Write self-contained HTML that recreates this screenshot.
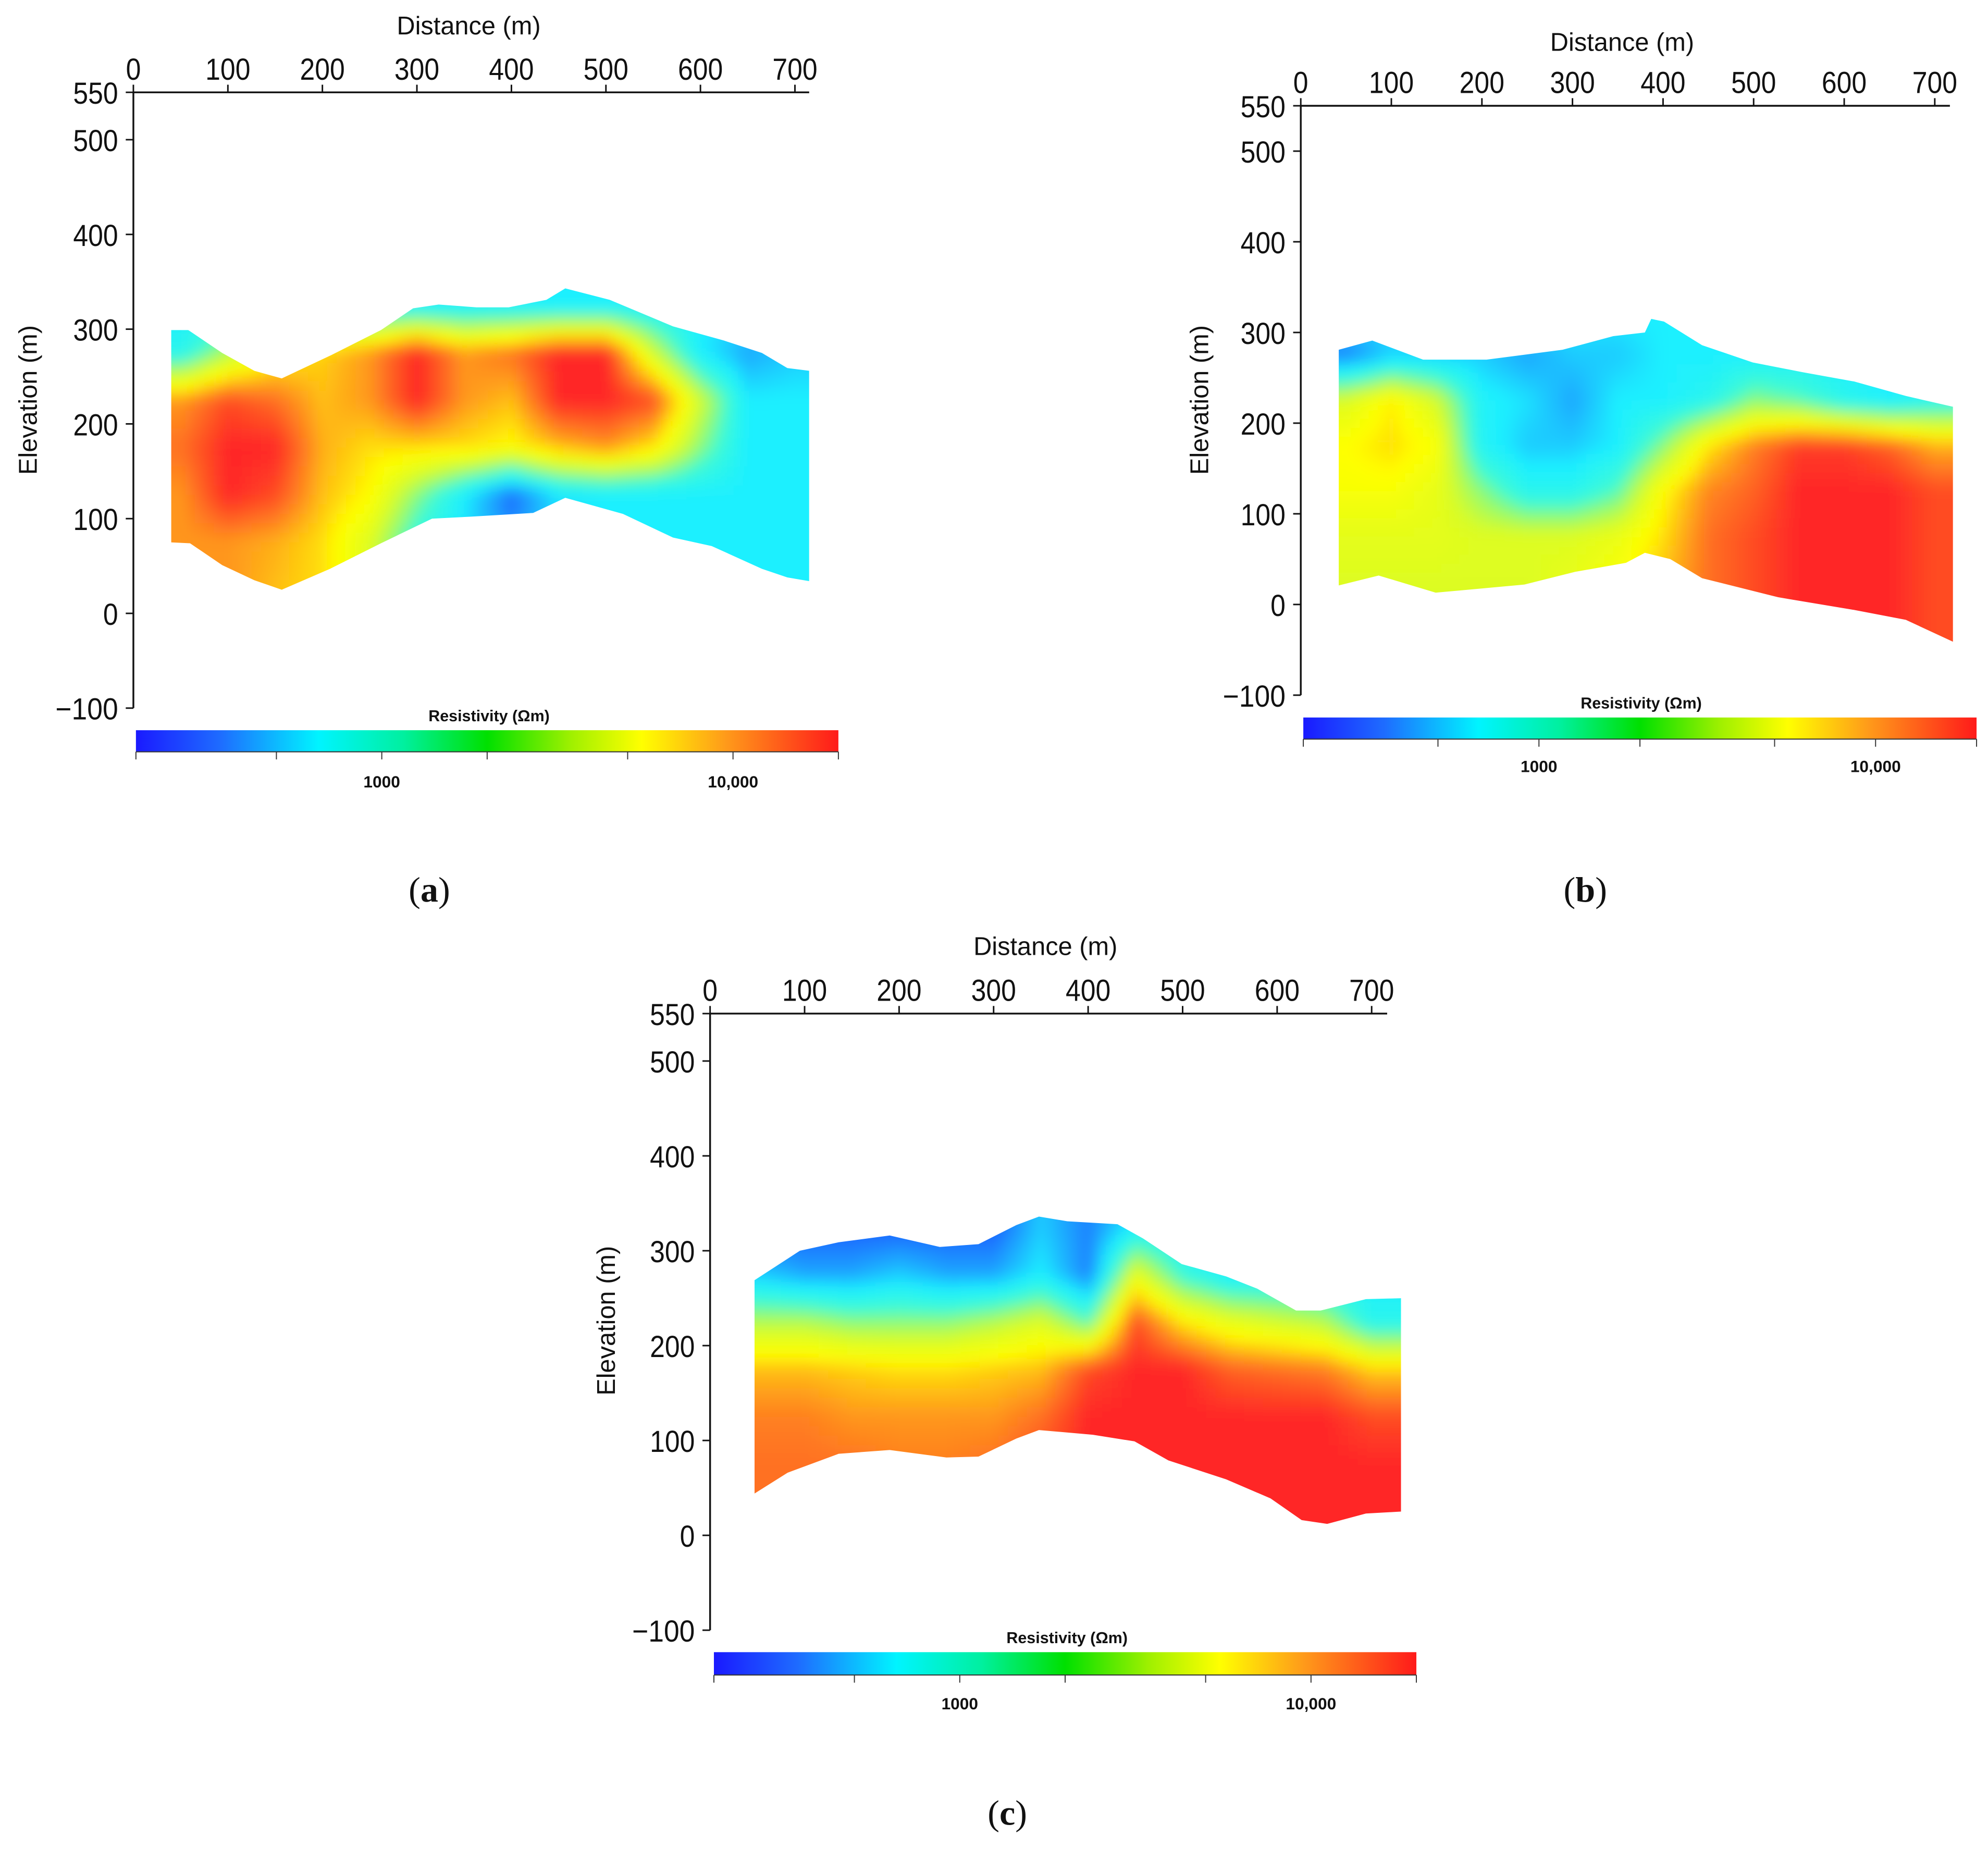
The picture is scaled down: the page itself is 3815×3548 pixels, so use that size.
<!DOCTYPE html>
<html><head><meta charset="utf-8">
<style>
html,body{margin:0;padding:0;background:#fff;}
svg{display:block;}
text{font-family:"Liberation Sans",Arial,sans-serif;fill:#111;}
</style></head>
<body>
<svg id="fig" width="3815" height="3548" viewBox="0 0 1565 1456" preserveAspectRatio="none" xmlns="http://www.w3.org/2000/svg">
<defs>
<linearGradient id="cmap" x1="0" x2="1" y1="0" y2="0">
<stop offset="0" stop-color="#1a1aff"/>
<stop offset="0.12" stop-color="#1e6cff"/>
<stop offset="0.26" stop-color="#00f4ff"/>
<stop offset="0.38" stop-color="#00f0a0"/>
<stop offset="0.5" stop-color="#00e000"/>
<stop offset="0.62" stop-color="#a0f000"/>
<stop offset="0.72" stop-color="#ffff00"/>
<stop offset="0.84" stop-color="#ff9a1a"/>
<stop offset="1" stop-color="#ff1a1a"/>
</linearGradient>
<filter id="blur" x="-10%" y="-10%" width="120%" height="120%"><feGaussianBlur stdDeviation="5"/></filter>
</defs>
</svg>
<script>
// ---------- data ----------
const xTicks = [0,100,200,300,400,500,600,700];
const yTicks = [550,500,400,300,200,100,0,-100];
const gridDist = [50,100,150,200,250,300,350,400,450,500,550,600,650,700];
const gridElevA = [325,275,225,175,125,75,25];
const gridElevB = [325,275,225,175,125,75,25,-25];
const gridElevC = [325,275,225,175,125,75,25];
const valuesA = [
[.3,.3,.3,.3,.3,.3,.3,.3,.3,.3,.3,.3,.3,.3],
[.35,.55,.72,.78,.85,1,.85,.9,1,1,.6,.3,.2,.25],
[.85,.95,.9,.8,.85,1,.85,.8,1,1,.95,.6,.3,.3],
[.9,1,1,.82,.76,.76,.76,.72,.8,.85,.75,.5,.3,.3],
[.85,1,.95,.8,.72,.5,.3,.12,.28,.3,.3,.3,.3,.3],
[.85,.85,.82,.76,.62,.38,.28,.18,.3,.3,.3,.3,.3,.3],
[.85,.85,.8,.76,.62,.4,.3,.3,.3,.3,.3,.3,.3,.3]];
const valuesB = [
[.3,.3,.3,.3,.3,.3,.3,.3,.3,.3,.3,.3,.3,.3],
[.15,.25,.25,.25,.2,.25,.25,.3,.3,.3,.3,.3,.3,.3],
[.62,.74,.6,.32,.28,.2,.3,.3,.35,.5,.45,.35,.3,.35],
[.72,.76,.7,.33,.25,.25,.3,.5,.75,.88,.97,.97,.92,.82],
[.7,.7,.65,.5,.35,.35,.45,.72,.87,.92,1,1,1,.95],
[.64,.64,.64,.62,.62,.62,.66,.76,.9,.95,1,1,1,.95],
[.62,.62,.62,.62,.62,.65,.7,.8,.9,.95,1,1,1,.95],
[.6,.6,.6,.6,.6,.65,.7,.8,.9,.95,1,1,1,.95]];
const valuesC = [
[.1,.1,.1,.1,.1,.1,.25,.15,.3,.3,.3,.3,.3,.3],
[.25,.2,.2,.25,.2,.2,.3,.15,.65,.4,.3,.3,.3,.3],
[.55,.55,.5,.5,.5,.55,.62,.45,.95,.75,.65,.6,.55,.35],
[.8,.8,.78,.76,.76,.78,.8,.95,1,1,.92,.9,.88,.78],
[.88,.88,.85,.85,.85,.85,.9,1,1,1,1,1,1,.95],
[.9,.9,.9,.88,.88,.9,.95,1,1,1,1,1,1,1],
[.9,.9,.9,.9,.9,.9,.95,1,1,1,1,1,1,1]];
const topA = [[40,299],[58,299],[94,275],[128,256],[157,248],[208,272],[262,299],[296,322],[323,326],[363,323],[397,323],[437,331],[457,343],[504,331],[571,303],[625,288],[665,275],[692,259],[715,256]];
const botA = [[715,34],[692,38],[665,47],[612,71],[571,80],[518,105],[457,122],[423,106],[356,102],[316,100],[262,74],[208,47],[157,25],[128,35],[94,51],[60,74],[40,75]];
const topB = [[42,281],[79,291],[135,270],[205,270],[289,281],[345,296],[380,300],[387,315],[401,312],[443,286],[499,267],[555,256],[611,246],[668,230],[720,218]];
const botB = [[720,-41],[668,-17],[611,-6],[527,8],[443,29],[408,50],[380,57],[359,46],[303,36],[247,22],[149,13],[86,32],[42,21]];
const topC = [[47,269],[95,300],[136,309],[190,316],[243,304],[284,307],[324,327],[348,336],[378,331],[431,328],[458,313],[499,286],[546,273],[579,260],[620,237],[646,237],[694,249],[731,250]];
const botC = [[731,25],[694,23],[653,12],[626,16],[593,39],[546,59],[485,79],[449,99],[405,106],[348,111],[324,102],[284,83],[250,82],[190,90],[136,86],[82,66],[47,44]];
const cbTickFrac = [0,0.2,0.35,0.5,0.7,0.85,1];
const cbLabels = [["1000",0.35],["10,000",0.85]];

// ---------- helpers ----------
const NS = "http://www.w3.org/2000/svg";
const svg = document.getElementById('fig');
function mk(tag, attrs, parent){const e=document.createElementNS(NS,tag);for(const k in attrs)e.setAttribute(k,attrs[k]);(parent||svg).appendChild(e);return e;}
const stops=[[0,[26,40,255]],[0.12,[30,108,255]],[0.3,[30,240,255]],[0.42,[60,250,215]],[0.5,[140,250,120]],[0.6,[215,252,40]],[0.72,[255,255,0]],[0.85,[255,150,30]],[1,[255,38,38]]];
function cmap(v){v=Math.max(0,Math.min(1,v));for(let i=1;i<stops.length;i++){if(v<=stops[i][0]){const a=stops[i-1],b=stops[i];const t=(v-a[0])/(b[0]-a[0]);const c=a[1].map((x,j)=>Math.round(x+(b[1][j]-x)*t));return `rgb(${c[0]},${c[1]},${c[2]})`;}}return 'rgb(255,38,38)';}
function interp(vals, elevs, d, e){
  let fi=(d-gridDist[0])/(gridDist[1]-gridDist[0]);fi=Math.max(0,Math.min(gridDist.length-1,fi));
  let fj=(elevs[0]-e)/(elevs[0]-elevs[1]);fj=Math.max(0,Math.min(elevs.length-1,fj));
  const i0=Math.floor(fi),i1=Math.min(i0+1,gridDist.length-1),j0=Math.floor(fj),j1=Math.min(j0+1,elevs.length-1);
  const ti=fi-i0,tj=fj-j0;
  const a=vals[j0][i0]*(1-ti)+vals[j0][i1]*ti, b=vals[j1][i0]*(1-ti)+vals[j1][i1]*ti;
  return a*(1-tj)+b*tj;
}

function panel(id, P, vals, elevs, top, bot, cb, letter){
  const g=mk('g',{});
  
  
  const X=d=>P.x0+d*P.sx, Y=e=>P.y0-e*P.sy;
  const cp=mk('clipPath',{id:'clip-'+id},svg.querySelector('defs'));
  const pts=top.concat(bot).map(p=>X(p[0]).toFixed(1)+','+Y(p[1]).toFixed(1)).join(' ');
  mk('polygon',{points:pts},cp);
  const sec=mk('g',{'clip-path':'url(#clip-'+id+')'},g);
  
  
  const heat=mk('g',{filter:'url(#blur)'},sec);
  const step=10;
  for(let d=0;d<=760;d+=step){for(let e=360;e>=-60;e-=step){
    const r=mk('rect',{x:X(d-step/2).toFixed(2),y:Y(e+step/2).toFixed(2),width:(step*P.sx+0.6).toFixed(2),height:(step*P.sy+0.6).toFixed(2),fill:cmap(interp(vals,elevs,d,e))},heat);
    
    
  }}
  const yTop=Y(550), yBot=Y(-100);
  const xa=mk('line',{x1:X(0),y1:yTop,x2:P.xEnd,y2:yTop,stroke:'#111','stroke-width':1.4},g);
  
  
  const ya=mk('line',{x1:X(0),y1:yTop,x2:X(0),y2:yBot,stroke:'#111','stroke-width':1.4},g);
  
  
  xTicks.forEach(t=>{
    mk('line',{x1:X(t),y1:yTop,x2:X(t),y2:yTop-6,stroke:'#111','stroke-width':1.2},g);
    const tx=mk('text',{x:X(t),y:yTop-10,'font-size':24,'text-anchor':'middle',textLength:(String(t).length*11.8),lengthAdjust:'spacingAndGlyphs'},g);
    tx.textContent=t;
    
    
  });
  yTicks.forEach(t=>{
    mk('line',{x1:X(0),y1:Y(t),x2:X(0)-6,y2:Y(t),stroke:'#111','stroke-width':1.2},g);
    const s=t<0?'\u2212'+Math.abs(t):String(t);
    const tx=mk('text',{x:X(0)-12,y:Y(t)+9,'font-size':24,'text-anchor':'end',textLength:(String(Math.abs(t)).length*11.8+(t<0?14:0)),lengthAdjust:'spacingAndGlyphs'},g);
    tx.textContent=s;
    
    
  });
  const xt=mk('text',{x:P.dx,y:P.dy,'font-size':20,'text-anchor':'middle'},g);
  xt.textContent='Distance (m)';
  
  
  const yt=mk('text',{x:0,y:0,'font-size':20,'text-anchor':'middle',transform:`translate(${P.ex},${P.ey}) rotate(-90)`},g);
  yt.textContent='Elevation (m)';
  
  
  const cbr=mk('rect',{x:cb.x,y:cb.y,width:cb.w,height:cb.h,fill:'url(#cmap)'},g);
  
  
  mk('line',{x1:cb.x,y1:cb.y+cb.h,x2:cb.x+cb.w,y2:cb.y+cb.h,stroke:'#333','stroke-width':0.8},g);
  cbTickFrac.forEach(f=>{mk('line',{x1:cb.x+f*cb.w,y1:cb.y+cb.h,x2:cb.x+f*cb.w,y2:cb.y+cb.h+6,stroke:'#333','stroke-width':0.8},g);});
  cbLabels.forEach(l=>{
    const t=mk('text',{x:cb.x+l[1]*cb.w,y:cb.ly,'font-size':13,'font-weight':'bold','text-anchor':'middle'},g);
    t.textContent=l[0];
    
    
  });
  const ct=mk('text',{x:cb.tx,y:cb.ty,'font-size':12.5,'font-weight':'bold','text-anchor':'middle'},g);
  ct.textContent='Resistivity  (\u03A9m)';
  
  
  const lt=mk('text',{x:letter[0],y:letter[1],'font-size':28,'text-anchor':'middle',style:'font-family:"Liberation Serif",serif'},g);
  lt.innerHTML='(<tspan font-weight="bold">'+id+'</tspan>)';
  
  
}

panel('a',{x0:105,sx:0.744,y0:483,sy:0.746,xEnd:637,dx:369,dy:27,ex:29,ey:315},valuesA,gridElevA,topA,botA,
  {x:107,y:575,w:553,h:17,ly:620,tx:385,ty:568},[338,710]);
panel('b',{x0:1024,sx:0.713,y0:476,sy:0.714,xEnd:1535,dx:1277,dy:40,ex:951,ey:315},valuesB,gridElevB,topB,botB,
  {x:1026,y:565,w:530,h:17,ly:608,tx:1292,ty:558},[1248,710]);
panel('c',{x0:559,sx:0.744,y0:1209,sy:0.747,xEnd:1092,dx:823,dy:752,ex:484,ey:1040},valuesC,gridElevC,topC,botC,
  {x:562,y:1301,w:553,h:18,ly:1346,tx:840,ty:1294},[793,1437]);
</script>
</body></html>
